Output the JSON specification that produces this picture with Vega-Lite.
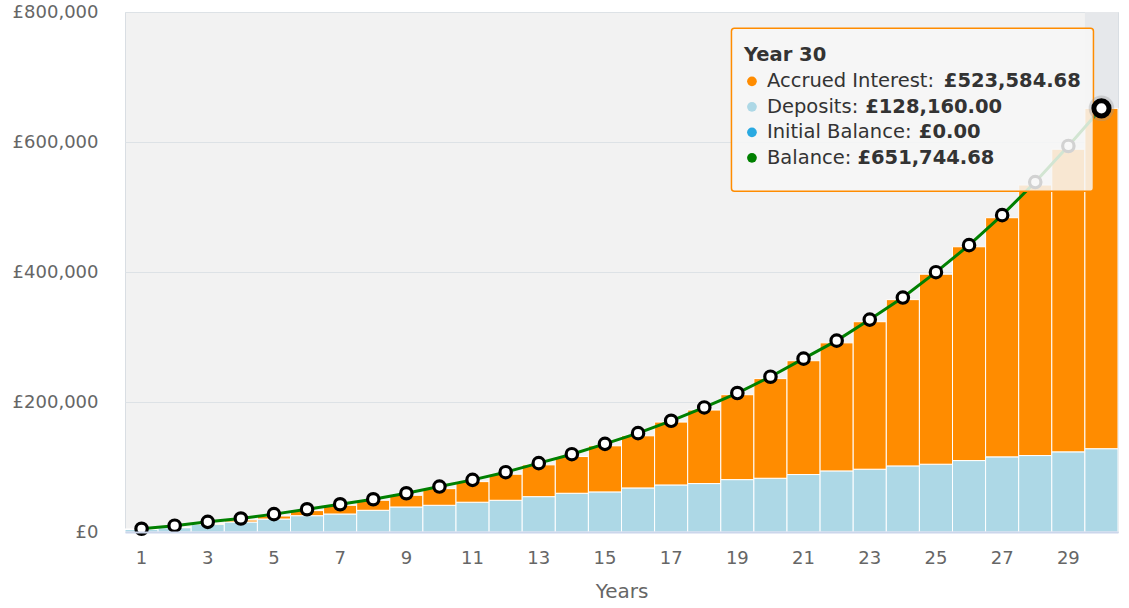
{
  "$schema": "https://vega.github.io/schema/vega-lite/v6.json",
  "width": 993,
  "height": 520,
  "autosize": {"type": "none"},
  "padding": {"left": 125, "top": 12, "right": 11, "bottom": 76},
  "background": "white",
  "config": {
    "font": "DejaVu Sans",
    "view": {"fill": "#f2f2f2", "stroke": "#d9dee3"}
  },
  "datasets": {
    "savings": [
      {"Year": 1, "Deposits": 4100, "Accrued Interest": 300, "Initial Balance": 0, "Balance": 5000},
      {"Year": 2, "Deposits": 6700, "Accrued Interest": 600, "Initial Balance": 0, "Balance": 9700},
      {"Year": 3, "Deposits": 11900, "Accrued Interest": 1300, "Initial Balance": 0, "Balance": 15600},
      {"Year": 4, "Deposits": 15400, "Accrued Interest": 3000, "Initial Balance": 0, "Balance": 20800},
      {"Year": 5, "Deposits": 20000, "Accrued Interest": 4600, "Initial Balance": 0, "Balance": 27500},
      {"Year": 6, "Deposits": 25100, "Accrued Interest": 7800, "Initial Balance": 0, "Balance": 35000},
      {"Year": 7, "Deposits": 27700, "Accrued Interest": 13400, "Initial Balance": 0, "Balance": 42700},
      {"Year": 8, "Deposits": 33400, "Accrued Interest": 15400, "Initial Balance": 0, "Balance": 50400},
      {"Year": 9, "Deposits": 38500, "Accrued Interest": 18000, "Initial Balance": 0, "Balance": 59600},
      {"Year": 10, "Deposits": 41100, "Accrued Interest": 25600, "Initial Balance": 0, "Balance": 69900},
      {"Year": 11, "Deposits": 45800, "Accrued Interest": 31700, "Initial Balance": 0, "Balance": 80200},
      {"Year": 12, "Deposits": 48800, "Accrued Interest": 40100, "Initial Balance": 0, "Balance": 92000},
      {"Year": 13, "Deposits": 54400, "Accrued Interest": 48900, "Initial Balance": 0, "Balance": 105900},
      {"Year": 14, "Deposits": 59600, "Accrued Interest": 56500, "Initial Balance": 0, "Balance": 119700},
      {"Year": 15, "Deposits": 61700, "Accrued Interest": 70900, "Initial Balance": 0, "Balance": 135600},
      {"Year": 16, "Deposits": 67800, "Accrued Interest": 80200, "Initial Balance": 0, "Balance": 152100},
      {"Year": 17, "Deposits": 72400, "Accrued Interest": 96700, "Initial Balance": 0, "Balance": 171100},
      {"Year": 18, "Deposits": 74500, "Accrued Interest": 113100, "Initial Balance": 0, "Balance": 191600},
      {"Year": 19, "Deposits": 80600, "Accrued Interest": 130600, "Initial Balance": 0, "Balance": 213800},
      {"Year": 20, "Deposits": 82700, "Accrued Interest": 153300, "Initial Balance": 0, "Balance": 238900},
      {"Year": 21, "Deposits": 88400, "Accrued Interest": 175100, "Initial Balance": 0, "Balance": 266700},
      {"Year": 22, "Deposits": 94000, "Accrued Interest": 197000, "Initial Balance": 0, "Balance": 294400},
      {"Year": 23, "Deposits": 96600, "Accrued Interest": 226900, "Initial Balance": 0, "Balance": 326800},
      {"Year": 24, "Deposits": 101700, "Accrued Interest": 255800, "Initial Balance": 0, "Balance": 360700},
      {"Year": 25, "Deposits": 104300, "Accrued Interest": 292300, "Initial Balance": 0, "Balance": 399700},
      {"Year": 26, "Deposits": 109900, "Accrued Interest": 328900, "Initial Balance": 0, "Balance": 441300},
      {"Year": 27, "Deposits": 115600, "Accrued Interest": 367900, "Initial Balance": 0, "Balance": 487500},
      {"Year": 28, "Deposits": 117600, "Accrued Interest": 416200, "Initial Balance": 0, "Balance": 538400},
      {"Year": 29, "Deposits": 123300, "Accrued Interest": 465500, "Initial Balance": 0, "Balance": 593900},
      {"Year": 30, "Deposits": 128160, "Accrued Interest": 523584.68, "Initial Balance": 0, "Balance": 651744.68}
    ]
  },
  "data": {"name": "savings"},
  "layer": [
    {
      "transform": [{"filter": "datum.Year == 30"}],
      "mark": {"type": "rect", "color": "#e6e8eb"},
      "encoding": {
        "x": {"field": "Year", "type": "ordinal"}
      }
    },
    {
      "transform": [
        {"fold": ["Deposits", "Accrued Interest"], "as": ["series", "amount"]},
        {"calculate": "datum.series == 'Deposits' ? 0 : 1", "as": "stackOrder"}
      ],
      "mark": {"type": "bar", "stroke": "white", "strokeWidth": 1},
      "encoding": {
        "x": {
          "field": "Year",
          "type": "ordinal",
          "sort": "ascending",
          "scale": {"paddingInner": 0, "paddingOuter": 0},
          "axis": {
            "values": [1, 3, 5, 7, 9, 11, 13, 15, 17, 19, 21, 23, 25, 27, 29],
            "bandPosition": 0.5,
            "labelAngle": 0,
            "labelAlign": "center",
            "ticks": false,
            "domainColor": "#ccd6eb",
            "domainWidth": 2,
            "labelFontSize": 18,
            "labelColor": "#666666",
            "labelPadding": 26,
            "title": "Years",
            "titleFontSize": 20,
            "titleFontWeight": "normal",
            "titleColor": "#666666",
            "titlePadding": 14
          }
        },
        "y": {
          "field": "amount",
          "type": "quantitative",
          "stack": "zero",
          "scale": {"domain": [0, 800000], "nice": false},
          "axis": {
            "values": [0, 200000, 400000, 600000, 800000],
            "labelExpr": "'£' + format(datum.value, ',')",
            "title": null,
            "ticks": false,
            "domain": false,
            "gridColor": "#dde2e6",
            "labelFontSize": 18,
            "labelColor": "#666666",
            "labelPadding": 27
          }
        },
        "color": {
          "field": "series",
          "type": "nominal",
          "scale": {
            "domain": ["Accrued Interest", "Deposits", "Initial Balance", "Balance"],
            "range": ["#ff8c00", "#add8e6", "#29a9e1", "#008000"]
          },
          "legend": null
        },
        "order": {"field": "stackOrder"}
      }
    },
    {
      "mark": {"type": "line", "color": "#008000", "strokeWidth": 3},
      "encoding": {
        "x": {"field": "Year", "type": "ordinal"},
        "y": {"field": "Balance", "type": "quantitative"}
      }
    },
    {
      "transform": [{"filter": "datum.Year < 30"}],
      "mark": {"type": "circle", "fill": "white", "stroke": "black", "strokeWidth": 3.2, "size": 130, "opacity": 1},
      "encoding": {
        "x": {"field": "Year", "type": "ordinal"},
        "y": {"field": "Balance", "type": "quantitative"}
      }
    },
    {
      "transform": [{"filter": "datum.Year == 30"}],
      "mark": {"type": "rect", "fill": "#f7f7f7", "fillOpacity": 0.85, "stroke": "#ff8c00", "strokeWidth": 1.5, "cornerRadius": 3, "xOffset": -370, "x2Offset": -8, "yOffset": -80, "y2Offset": 83},
      "encoding": {
        "x": {"field": "Year", "type": "ordinal"},
        "x2": {"field": "Year"},
        "y": {"field": "Balance", "type": "quantitative"},
        "y2": {"field": "Balance"}
      }
    },
    {
      "transform": [
        {"filter": "datum.Year == 30"},
        {"calculate": "'Year ' + datum.Year", "as": "header"}
      ],
      "mark": {"type": "text", "align": "left", "baseline": "alphabetic", "dx": -357.5, "dy": -47, "fontSize": 19.5, "fontWeight": "bold", "color": "#333333"},
      "encoding": {
        "x": {"field": "Year", "type": "ordinal"},
        "y": {"field": "Balance", "type": "quantitative"},
        "text": {"field": "header"}
      }
    },
    {
      "transform": [
        {"filter": "datum.Year == 30"},
        {"fold": ["Accrued Interest", "Deposits", "Initial Balance", "Balance"], "as": ["series", "amount"]},
        {"calculate": "indexof(['Accrued Interest', 'Deposits', 'Initial Balance', 'Balance'], datum.series)", "as": "idx"},
        {"calculate": "datum.series + ': '", "as": "label"},
        {"calculate": "'£' + format(datum.amount, ',.2f')", "as": "valueText"},
        {"calculate": "0.6*length(datum.label) - 0.32*length(replace(datum.label, regexp('[^ilI]', 'g'), '')) - 0.27*length(replace(datum.label, regexp('[^: ]', 'g'), '')) - 0.2*length(replace(datum.label, regexp('[^tr]', 'g'), '')) + 0.1*length(replace(datum.label, regexp('[^A-Z]', 'g'), ''))", "as": "labelEm"}
      ],
      "encoding": {
        "x": {"field": "Year", "type": "ordinal"},
        "y": {"field": "Balance", "type": "quantitative"}
      },
      "layer": [
        {
          "mark": {"type": "circle", "size": 95, "opacity": 1, "xOffset": -349.5, "yOffset": {"expr": "-27 + 25.5*datum.idx"}},
          "encoding": {
            "color": {"field": "series", "type": "nominal", "legend": null}
          }
        },
        {
          "mark": {"type": "text", "align": "left", "baseline": "alphabetic", "dx": -334.5, "dy": {"expr": "-21 + 25.5*datum.idx"}, "fontSize": 19.5, "color": "#333333"},
          "encoding": {"text": {"field": "label"}}
        },
        {
          "mark": {"type": "text", "align": "left", "baseline": "alphabetic", "dx": {"expr": "-334.5 + 19.5*datum.labelEm"}, "dy": {"expr": "-21 + 25.5*datum.idx"}, "fontSize": 19.5, "fontWeight": "bold", "color": "#333333"},
          "encoding": {"text": {"field": "valueText"}}
        }
      ]
    },
    {
      "transform": [{"filter": "datum.Year == 30"}],
      "encoding": {
        "x": {"field": "Year", "type": "ordinal"},
        "y": {"field": "Balance", "type": "quantitative"}
      },
      "layer": [
        {"mark": {"type": "circle", "fill": "#999999", "opacity": 0.35, "size": 650}},
        {"mark": {"type": "circle", "fill": "white", "stroke": "black", "strokeWidth": 5, "size": 230, "opacity": 1}}
      ]
    }
  ]
}
